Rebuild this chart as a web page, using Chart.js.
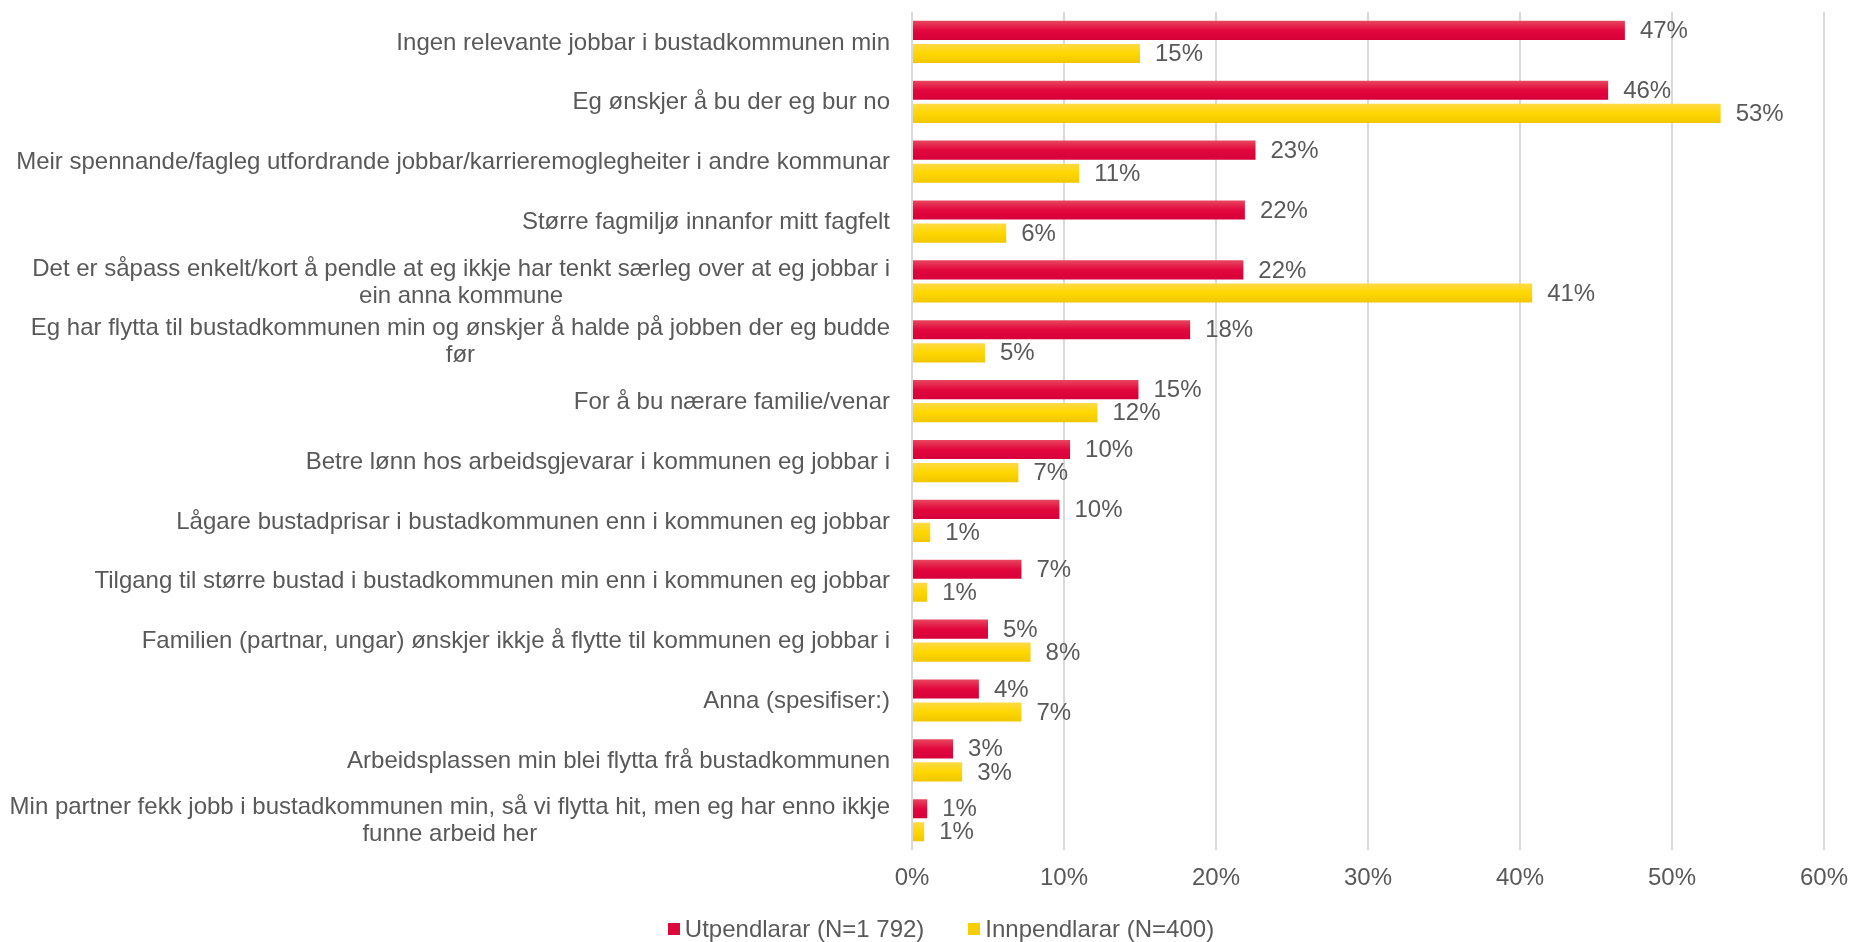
<!DOCTYPE html>
<html lang="nn">
<head>
  <meta charset="UTF-8">
  <title>Årsaker til pendling</title>
  <style>
    body {
      margin: 0;
      background: #fff;
      font-family: 'Liberation Sans', Arial, sans-serif;
    }
    .wrap {
      position: relative;
      width: 1856px;
      height: 942px;
    }
    canvas {
      display: block;
    }
    #legend {
      position: absolute;
      left: 0;
      right: 0;
      top: 912px;
      height: 34px;
      display: flex;
      justify-content: center;
      align-items: center;
      gap: 44px;
      padding-left: 26px;
      font-size: 24px;
      color: #595959;
    }
    #legend span.item {
      display: flex;
      align-items: center;
    }
    #legend i {
      display: inline-block;
      width: 12px;
      height: 12px;
      margin-right: 5px;
    }
  </style>
  <script src="https://cdn.jsdelivr.net/npm/chart.js"></script>
</head>
<body>
  <div class="wrap">
    <canvas id="pendlChart" width="1856" height="942"></canvas>
    <div id="legend"></div>
  </div>

  <script>
    const categories = [
      'Ingen relevante jobbar i bustadkommunen min',
      'Eg ønskjer å bu der eg bur no',
      'Meir spennande/fagleg utfordrande jobbar/karrieremoglegheiter i andre kommunar',
      'Større fagmiljø innanfor mitt fagfelt',
      ['Det er såpass enkelt/kort å pendle at eg ikkje har tenkt særleg over at eg jobbar i', 'ein anna kommune'],
      ['Eg har flytta til bustadkommunen min og ønskjer å halde på jobben der eg budde', 'før'],
      'For å bu nærare familie/venar',
      'Betre lønn hos arbeidsgjevarar i kommunen eg jobbar i',
      'Lågare bustadprisar i bustadkommunen enn i kommunen eg jobbar',
      'Tilgang til større bustad i bustadkommunen min enn i kommunen eg jobbar',
      'Familien (partnar, ungar) ønskjer ikkje å flytte til kommunen eg jobbar i',
      'Anna (spesifiser:)',
      'Arbeidsplassen min blei flytta frå bustadkommunen',
      ['Min partner fekk jobb i bustadkommunen min, så vi flytta hit, men eg har enno ikkje', 'funne arbeid her']
    ];
    const utpendlarar = [46.9, 45.8, 22.6, 21.9, 21.8, 18.3, 14.9, 10.4, 9.7, 7.2, 5.0, 4.4, 2.7, 1.0];
    const innpendlarar = [15.0, 53.2, 11.0, 6.2, 40.8, 4.8, 12.2, 7.0, 1.2, 1.0, 7.8, 7.2, 3.3, 0.8];
    const seriesNames = ['Utpendlarar (N=1 792)', 'Innpendlarar (N=400)'];
    const xTicks = [0, 10, 20, 30, 40, 50, 60];

    const textColor = '#595959';
    const fontFamily = "'Liberation Sans', Arial, sans-serif";
    const catPct = 0.77;
    const barPct = 0.83;

    // gradient per bar, worked out from the category scale
    const barGradient = (ctx, top, mid, bottom) => {
      const chart = ctx.chart;
      const yScale = chart.scales.y;
      if (!yScale || !chart.chartArea) return mid;
      const catH = (yScale.bottom - yScale.top) / categories.length;
      const slot = catH * catPct / 2;
      const center = yScale.getPixelForValue(ctx.dataIndex) - catH * catPct / 2 + slot * (ctx.datasetIndex + 0.5);
      const h = slot * barPct;
      const g = chart.ctx.createLinearGradient(0, center - h / 2, 0, center + h / 2);
      g.addColorStop(0, top);
      g.addColorStop(0.5, mid);
      g.addColorStop(1, bottom);
      return g;
    };

    const valueLabels = {
      id: 'valueLabels',
      afterDatasetsDraw(chart) {
        const c = chart.ctx;
        c.save();
        c.font = '24px ' + fontFamily;
        c.fillStyle = textColor;
        c.textAlign = 'left';
        c.textBaseline = 'middle';
        chart.data.datasets.forEach((ds, di) => {
          chart.getDatasetMeta(di).data.forEach((bar, i) => {
            c.fillText(Math.round(ds.data[i]) + '%', bar.x + 15, bar.y + 1);
          });
        });
        c.restore();
      }
    };

    // category labels: block right-aligned, lines centred within the block
    const categoryLabels = {
      id: 'categoryLabels',
      afterDraw(chart) {
        const c = chart.ctx;
        const yScale = chart.scales.y;
        const rightEdge = 890;
        const lineH = 27;
        c.save();
        c.font = '24px ' + fontFamily;
        c.fillStyle = textColor;
        c.textAlign = 'center';
        c.textBaseline = 'middle';
        categories.forEach((label, i) => {
          const lines = Array.isArray(label) ? label : [label];
          const maxW = Math.max(...lines.map(l => c.measureText(l).width));
          const cx = rightEdge - maxW / 2;
          const y0 = yScale.getPixelForValue(i) - (lines.length - 1) * lineH / 2;
          lines.forEach((l, k) => c.fillText(l, cx, y0 + k * lineH + 1));
        });
        c.restore();
      }
    };

    const ctx = document.getElementById('pendlChart').getContext('2d');
    const chart = new Chart(ctx, {
      type: 'bar',
      data: {
        labels: categories,
        datasets: [{
          label: seriesNames[0],
          data: utpendlarar,
          backgroundColor: (c) => barGradient(c, '#e8475f', '#e2073d', '#d6003a'),
          legendColor: '#dc0a3c',
          categoryPercentage: catPct,
          barPercentage: barPct
        }, {
          label: seriesNames[1],
          data: innpendlarar,
          backgroundColor: (c) => barGradient(c, '#ffda45', '#ffd700', '#f0c700'),
          legendColor: '#f7cf00',
          categoryPercentage: catPct,
          barPercentage: barPct
        }]
      },
      options: {
        indexAxis: 'y',
        responsive: false,
        animation: false,
        layout: {
          padding: { top: 12, right: 32, bottom: 35, left: 0 }
        },
        scales: {
          x: {
            min: 0,
            max: 60,
            afterBuildTicks: (scale) => {
              scale.ticks = xTicks.map(v => ({ value: v }));
            },
            afterFit: (scale) => {
              // let layout padding decide the right edge, not the last label
              scale.paddingLeft = 0;
              scale.paddingRight = 0;
            },
            grid: {
              color: '#d9d9d9',
              lineWidth: 2,
              drawTicks: false
            },
            border: { display: false },
            ticks: {
              padding: 14,
              color: textColor,
              font: { size: 24, family: fontFamily },
              callback: (v) => v + '%'
            }
          },
          y: {
            grid: { display: false },
            border: { display: false },
            ticks: { display: false },
            afterFit: (scale) => { scale.width = 912; }
          }
        },
        plugins: {
          legend: { display: false },
          tooltip: { enabled: false }
        }
      },
      plugins: [valueLabels, categoryLabels]
    });

    // legend as html, built from the datasets
    const legendEl = document.getElementById('legend');
    chart.data.datasets.forEach(ds => {
      const item = document.createElement('span');
      item.className = 'item';
      const box = document.createElement('i');
      box.style.background = ds.legendColor;
      item.appendChild(box);
      item.appendChild(document.createTextNode(ds.label));
      legendEl.appendChild(item);
    });
  </script>
</body>
</html>
